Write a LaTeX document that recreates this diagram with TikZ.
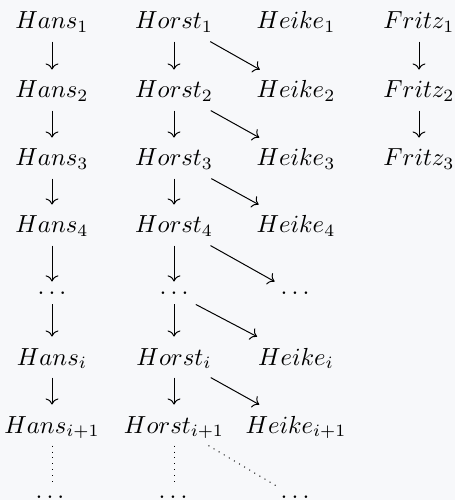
\documentclass[tikz,border=0pt]{standalone}
\usetikzlibrary{arrows.meta}
\definecolor{bg}{RGB}{247,248,250}
\begin{document}
\begin{tikzpicture}[x=0.405pt,y=-0.405pt,
 nm/.style={inner xsep=3pt, inner ysep=0pt, text height=11.3pt, text depth=4.9pt, anchor=base},
 dt/.style={inner xsep=3pt, inner ysep=0pt, text height=4.9pt, text depth=4.0pt, anchor=center},
 ar/.style={-{Computer Modern Rightarrow}, line width=0.4pt},
 dl/.style={line width=0.4pt, dotted}]
\fill[bg] (0,0) rectangle (455,500);
\useasboundingbox (0,0) rectangle (455,500);
% Hans
\node[nm] (a1) at (52,29) {$Hans_1$};
\node[nm] (a2) at (52,98) {$Hans_2$};
\node[nm] (a3) at (52,166) {$Hans_3$};
\node[nm] (a4) at (52,233) {$Hans_4$};
\node[dt] (ad) at (52,293) {$\ldots$};
\node[nm] (ai) at (52,365) {$Hans_i$};
\node[nm] (aj) at (52,433) {$Hans_{i+1}$};
\node[dt] (ae) at (50,497) {$\ldots$};
% Horst
\node[nm] (b1) at (174,29) {$Horst_1$};
\node[nm] (b2) at (174,98) {$Horst_2$};
\node[nm] (b3) at (174,166) {$Horst_3$};
\node[nm] (b4) at (174,233) {$Horst_4$};
\node[dt] (bd) at (174,293) {$\ldots$};
\node[nm] (bi) at (174,365) {$Horst_i$};
\node[nm] (bj) at (174,433) {$Horst_{i+1}$};
\node[dt] (be) at (173,497) {$\ldots$};
% Heike
\node[nm] (c1) at (296,29) {$Heike_1$};
\node[nm] (c2) at (296,98) {$Heike_2$};
\node[nm] (c3) at (296,166) {$Heike_3$};
\node[nm] (c4) at (296,233) {$Heike_4$};
\node[dt] (cd) at (295,293) {$\ldots$};
\node[nm] (ci) at (296,365) {$Heike_i$};
\node[nm] (cj) at (296,433) {$Heike_{i+1}$};
\node[dt] (ce) at (295,497) {$\ldots$};
% Fritz
\node[nm] (d1) at (419,29) {$Fritz_1$};
\node[nm] (d2) at (419,98) {$Fritz_2$};
\node[nm] (d3) at (419,166) {$Fritz_3$};
% arrows
\foreach \p in {a,b} {
  \draw[ar] (\p1) -- (\p2);
  \draw[ar] (\p2) -- (\p3);
  \draw[ar] (\p3) -- (\p4);
  \draw[ar] (\p4) -- (\p d);
  \draw[ar] (\p d) -- (\p i);
  \draw[ar] (\p i) -- (\p j);
}
\draw[dl] (aj) -- (aj |- ae.north);
\draw[dl] (bj) -- (bj |- be.north);
\draw[ar] (b1) -- (c2);
\draw[ar] (b2) -- (c3);
\draw[ar] (b3) -- (c4);
\draw[ar] (b4) -- (cd);
\draw[ar] (bd) -- (ci);
\draw[ar] (bi) -- (cj);
\draw[dl] (bj) -- (ce);
\draw[ar] (d1) -- (d2);
\draw[ar] (d2) -- (d3);
\end{tikzpicture}
\end{document}
